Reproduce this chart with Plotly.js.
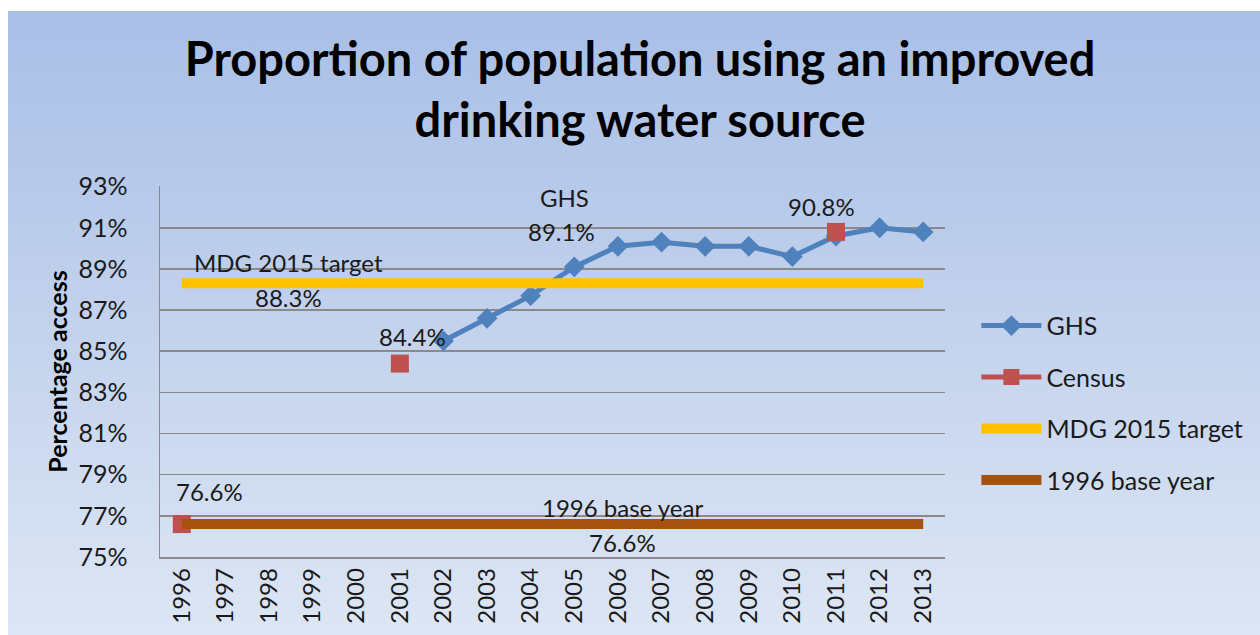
<!DOCTYPE html>
<html>
<head>
<meta charset="utf-8">
<script src="https://cdn.plot.ly/plotly-3.0.1.min.js"></script>
<style>
  html, body { margin: 0; padding: 0; background: #ffffff; }
  #bg { position: absolute; left: 8px; top: 11px; width: 1252px; height: 624px;
        background: linear-gradient(to bottom, #a8bfe7 0%, #c0d0ec 45%, #dde6f4 100%); }
  #chart { position: absolute; left: 0; top: 0; width: 1260px; height: 635px; }
</style>
</head>
<body>
<div id="bg"></div>
<div id="chart"></div>
<script>
const years = ['1996','1997','1998','1999','2000','2001','2002','2003','2004','2005','2006','2007','2008','2009','2010','2011','2012','2013'];
const ghsYears = ['2002','2003','2004','2005','2006','2007','2008','2009','2010','2011','2012','2013'];
const ghsValues = [85.5, 86.6, 87.7, 89.1, 90.1, 90.3, 90.1, 90.1, 89.6, 90.6, 91.0, 90.8];
const censusYears = ['1996','2001','2011'];
const censusValues = [76.6, 84.4, 90.8];
const mdgTarget = 88.3;
const baseYear = 76.6;
const yTicks = [75, 77, 79, 81, 83, 85, 87, 89, 91, 93];
const yTickLabels = ['75%','77%','79%','81%','83%','85%','87%','89%','91%','93%'];

const FONT = 'Lato, "Open Sans", sans-serif';
const TXT = '#1a1a1a';

// census on the full year axis (isolated points => markers only on the plot, line+marker in legend)
const censusFull = years.map(y => { const i = censusYears.indexOf(y); return i >= 0 ? censusValues[i] : null; });

const traces = [
  {
    name: 'GHS', x: ghsYears, y: ghsValues, type: 'scatter', mode: 'lines+markers',
    line: { color: '#4f81bd', width: 5 },
    marker: { symbol: 'diamond', size: 16, color: '#4f81bd' },
    legendgroup: 'a'
  },
  {
    name: 'Census', x: years, y: censusFull, type: 'scatter', mode: 'lines+markers',
    connectgaps: false,
    line: { color: '#c0504d', width: 5 },
    marker: { symbol: 'square', size: 18, color: '#c0504d' },
    legendgroup: 'b'
  },
  {
    name: 'MDG 2015 target', x: years, y: years.map(() => mdgTarget), type: 'scatter', mode: 'lines',
    line: { color: '#ffc000', width: 10 },
    legendgroup: 'c'
  },
  {
    name: '1996 base year', x: years, y: years.map(() => baseYear), type: 'scatter', mode: 'lines',
    line: { color: '#a5520f', width: 10 },
    legendgroup: 'd'
  }
];

const labelFont = { family: FONT, size: 24, color: TXT };
function lab(text, cat, y, xs, ys) {
  return { text: text, x: years.indexOf(cat), y: y, xref: 'x', yref: 'y', xshift: xs, yshift: ys,
           showarrow: false, font: Object.assign({}, labelFont) };
}

const annotations = [
  lab('MDG 2015 target', '1998', mdgTarget, 19, 21),
  lab(mdgTarget.toFixed(1) + '%', '1998', mdgTarget, 19, -14),
  lab(censusValues[1].toFixed(1) + '%', '2001', censusValues[1], 13, 27),
  lab('GHS', '2005', ghsValues[3], -10, 69),
  lab(ghsValues[3].toFixed(1) + '%', '2005', ghsValues[3], -13, 35),
  lab(censusValues[2].toFixed(1) + '%', '2011', censusValues[2], -14, 25),
  lab(censusValues[0].toFixed(1) + '%', '1996', censusValues[0], 28, 33),
  lab('1996 base year', '2006', baseYear, 5, 17),
  lab(baseYear.toFixed(1) + '%', '2006', baseYear, 5, -18)
];

const layout = {
  width: 1260, height: 635,
  paper_bgcolor: 'rgba(0,0,0,0)', plot_bgcolor: 'rgba(0,0,0,0)',
  margin: { l: 160, r: 312, t: 186, b: 78, pad: 0 },
  title: {
    text: 'Proportion of population using an improved<br>drinking water source',
    font: { family: FONT, size: 47, color: '#000000', weight: 'bold' },
    x: 0.508, xanchor: 'center', y: 0.88, yanchor: 'top'
  },
  xaxis: {
    type: 'category', categoryorder: 'array', categoryarray: years,
    range: [-0.5, years.length - 0.5],
    tickangle: -90, tickfont: { family: FONT, size: 24, color: TXT },
    showgrid: false, showline: true, linecolor: '#8a8a8a', linewidth: 1.5,
    ticks: '', ticklen: 0
  },
  yaxis: {
    range: [75, 93.03], tickvals: yTicks, ticktext: yTickLabels,
    tickfont: { family: FONT, size: 25, color: TXT },
    showgrid: true, gridcolor: '#8a8a8a', gridwidth: 1.5,
    showline: true, linecolor: '#8a8a8a', linewidth: 1.5,
    zeroline: false, ticks: '', ticklabelstandoff: 26,
    title: { text: 'Percentage access', font: { family: FONT, size: 25, color: '#000', weight: 'bold' }, standoff: 3 }
  },
  showlegend: true,
  legend: {
    x: 1.04, xanchor: 'left', y: 0.685, yanchor: 'top',
    bgcolor: 'rgba(0,0,0,0)', font: { family: FONT, size: 25, color: TXT },
    traceorder: 'grouped', tracegroupgap: 16, itemwidth: 60
  },
  annotations: annotations
};

Plotly.newPlot('chart', traces, layout, { displayModeBar: false, staticPlot: true });
</script>
</body>
</html>
